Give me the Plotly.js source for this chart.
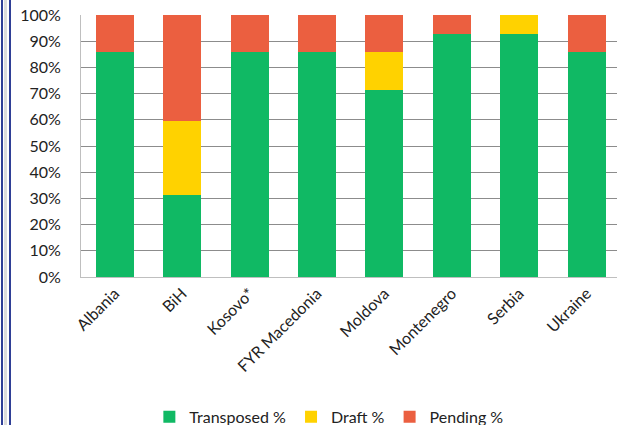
<!DOCTYPE html>
<html>
<head>
<meta charset="utf-8">
<script src="https://cdn.plot.ly/plotly-3.0.1.min.js"></script>
<style>
  html, body { margin: 0; padding: 0; background: #fff; }
  #wrap { position: relative; width: 617px; height: 425px; overflow: hidden; }
  #chart { position: absolute; left: 0; top: 0; width: 617px; height: 425px; }
  .bl { position: absolute; top: 0; height: 425px; background: #2f3f96; width: 2px; }
  .gr { position: absolute; top: 0; height: 425px; background: #dcdcdc; width: 3px; }
</style>
</head>
<body>
<div id="wrap">
  <div id="chart"></div>
  <div class="bl" style="left:1px"></div>
  <div class="gr" style="left:4px"></div>
  <div class="bl" style="left:9px"></div>
</div>
<script>
const countries = ["Albania", "BiH", "Kosovo*", "FYR Macedonia", "Moldova", "Montenegro", "Serbia", "Ukraine"];
const transposed = [85.7, 31.3, 85.7, 85.7, 71.4, 92.9, 92.9, 85.7];
const draft      = [0, 28.4, 0, 0, 14.3, 0, 7.1, 0];
const pending    = [14.3, 40.3, 14.3, 14.3, 14.3, 7.1, 0, 14.3];
const yTickVals  = [0, 10, 20, 30, 40, 50, 60, 70, 80, 90, 100];
const yTickText  = ["0%", "10%", "20%", "30%", "40%", "50%", "60%", "70%", "80%", "90%", "100%"];

const font = "Lato, 'Open Sans', sans-serif";
const mk = (name, y, color) => ({
  type: "bar", name: name, x: countries, y: y,
  marker: { color: color, line: { width: 0 } },
  hoverinfo: "skip"
});
const data = [
  mk("Transposed %", transposed, "#10b964"),
  mk("Draft %", draft, "#ffd200"),
  mk("Pending %", pending, "#eb5f40")
];
const layout = {
  width: 617, height: 425,
  margin: { l: 81, r: 0, t: 15, b: 148 },
  barmode: "stack",
  bargap: 0.435,
  paper_bgcolor: "#fff", plot_bgcolor: "#fff",
  font: { family: font, size: 16, color: "#222" },
  showlegend: true,
  legend: {
    orientation: "h", xref: "container", yref: "container",
    x: 0.533, xanchor: "center", y: 0.019, yanchor: "middle",
    font: { family: font, size: 16, color: "#222" },
    traceorder: "normal", itemwidth: 30, tracegroupgap: 0
  },
  xaxis: {
    type: "category",
    range: [-0.5, 7.45],
    tickangle: -45,
    showgrid: false,
    showline: true, linecolor: "#bfbfbf", linewidth: 1,
    ticks: "", automargin: false,
    tickfont: { family: font, size: 16, color: "#222" },
    fixedrange: true
  },
  yaxis: {
    range: [0, 100],
    tickvals: yTickVals, ticktext: yTickText,
    showgrid: true, gridcolor: "#8c8c8c", gridwidth: 1,
    showline: true, linecolor: "#bfbfbf", linewidth: 1,
    zeroline: false, automargin: false,
    ticks: "", ticklabelstandoff: 16,
    tickfont: { family: font, size: 16, color: "#222" },
    fixedrange: true
  }
};
Plotly.newPlot("chart", data, layout, { displayModeBar: false, staticPlot: true });
</script>
</body>
</html>
